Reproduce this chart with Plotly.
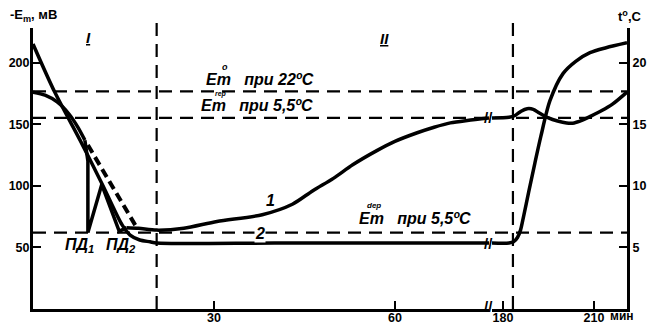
import plotly.graph_objects as go

# ---------------- data (time in min, potential -Em in mV, temperature in °C) ----------------
# curve 1 : membrane potential
c1_start_t = [0, 2, 4, 6, 7.5, 8.6]
c1_start_v = [176, 173.5, 168, 158, 147, 137]
c1_spike_t = [8.6, 9.1, 9.1, 11.4, 14.3, 15.5]
c1_spike_v = [137, 120, 62, 101, 63, 66]
c1_mid_t = [15.5, 17.5, 20.5, 25, 30.5, 38, 43, 46.4, 49.8, 53, 57, 60, 63.7, 66.5, 69.2, 72, 75.6]
c1_mid_v = [66, 65.5, 64, 65.5, 71, 76.5, 85, 96, 106, 117, 128.5, 136, 143, 147.5, 151, 153, 155]
c1_end_t = [176.4, 182, 184, 186, 188, 190, 192, 195, 198, 201, 203.5, 206, 209, 212.6, 216, 220.9]
c1_end_v = [155, 155.5, 157, 160.5, 162.5, 162, 159, 155, 152.5, 151, 151, 153, 156.5, 161, 166, 176]
# dashed trend through the action potentials
trend_t = [9.1, 17.2]
trend_v = [133, 66]
# curve 2 : temperature
t2_start_t = [0, 3.6, 7.8, 11.6, 14.8, 16.1, 17.7, 19.4, 20.5, 40, 60, 75.6]
t2_start_v = [21.5, 17.6, 13.7, 10.0, 6.8, 6.0, 5.6, 5.45, 5.35, 5.35, 5.35, 5.35]
t2_end_t = [176.4, 182, 183.5, 184.8, 185.8, 186.8, 188.5, 190.5, 192.5, 195.5, 199.8, 204, 208.7, 214, 220.9]
t2_end_v = [5.35, 5.35, 5.45, 5.8, 6.4, 7.5, 9.5, 11.8, 14.0, 16.9, 19.1, 20.1, 20.8, 21.2, 21.6]

# reference levels
ref_levels_mv = [176.5, 155, 62]
ref_time_1 = 20.5
ref_time_2 = 183.3

left_ticks = [50, 100, 150, 200]
right_ticks = [5, 10, 15, 20]
x1_ticks = [30, 60]
x2_ticks = [180, 210]

# ---------------- figure ----------------
# the page body has an 8px margin, so the figure is sized/offset to compensate
OFF = 8
W, H = 655 - OFF, 325 - OFF
PX0, PX1, PY0, PY1 = 33, 627, 28, 309          # plot area in page pixels
L, R, T, B = PX0 - OFF, 655 - PX1, PY0 - OFF, 325 - PY1
PW, PH = PX1 - PX0, PY1 - PY0


def px(x):
    return (x - PX0) / PW


def py(y):
    return (PY1 - y) / PH


FONT = "Liberation Sans"
LW = 3.5
fig = go.Figure()


def line(x, y, xa="x", ya="y", shape="spline", dash="solid", width=LW):
    fig.add_trace(go.Scatter(x=x, y=y, xaxis=xa, yaxis=ya, mode="lines",
                             line=dict(color="black", width=width, shape=shape,
                                       smoothing=0.8 if shape == "spline" else None, dash=dash),
                             showlegend=False, hoverinfo="skip"))


line(c1_start_t, c1_start_v)
line(c1_spike_t, c1_spike_v, shape="linear")
line(c1_mid_t, c1_mid_v)
line(c1_end_t, c1_end_v, xa="x2")
line(trend_t, trend_v, shape="linear", dash="9px,5px", width=4)
line(t2_start_t, t2_start_v, ya="y2")
line(t2_end_t, t2_end_v, xa="x2", ya="y2")

DASH = dict(color="black", width=2.2, dash="13px,8px")
shapes = []
for lv in ref_levels_mv:
    shapes.append(dict(type="line", xref="paper", yref="y", x0=0, x1=1, y0=lv, y1=lv, line=DASH))
shapes.append(dict(type="line", xref="x", yref="paper", x0=ref_time_1, x1=ref_time_1, y0=0, y1=1.036,
                   line=DASH))
shapes.append(dict(type="line", xref="x2", yref="paper", x0=ref_time_2, x1=ref_time_2, y0=0, y1=1.036,
                   line=DASH))

tickfont = dict(family=FONT, size=12.5, color="black", weight="bold")
axis_common = dict(showline=True, linecolor="black", linewidth=3, ticks="inside", ticklen=8,
                   tickwidth=2, tickcolor="black", showgrid=False, zeroline=False, tickfont=tickfont,
                   automargin=False)

fig.update_layout(
    width=W, height=H, margin=dict(l=L, r=R, t=T, b=B, autoexpand=False),
    paper_bgcolor="white", plot_bgcolor="white", shapes=shapes,
    xaxis=dict(domain=[0, px(489)], range=[0, 75.6], tickvals=x1_ticks, anchor="y",
               ticklabelstandoff=-5, **axis_common),
    xaxis2=dict(domain=[px(492), 1], range=[176.4, 220.9], tickvals=x2_ticks, anchor="y",
                ticklabelstandoff=-5, **axis_common),
    yaxis=dict(range=[0, 228], tickvals=left_ticks, anchor="x", ticklabelstandoff=-2, **axis_common),
    yaxis2=dict(range=[0, 22.8], tickvals=right_ticks, overlaying="y", side="right", anchor="x2",
                **axis_common),
)


def ann(text, x, y, size=15, xanchor="center", italic=True, bold=True, bg=None):
    fig.add_annotation(text=text, xref="paper", yref="paper", x=px(x), y=py(y), showarrow=False,
                       xanchor=xanchor, yanchor="middle",
                       font=dict(family=FONT, size=size, color="black",
                                 style="italic" if italic else "normal",
                                 weight="bold" if bold else "normal"),
                       bgcolor=bg, borderpad=0)


ann("-E<sub>m</sub>, мВ", 9, 16, size=13, xanchor="left", italic=False)
ann("t<sup>o</sup>,C", 617, 16, size=13, xanchor="left", italic=False)
ann("мин", 622, 316, size=12, italic=False)
ann("<u>I</u>", 88, 37, size=15)
ann("<u>II</u>", 384, 38, size=15)
ann("Em   при 22ºC", 205, 80, size=16, xanchor="left")
ann("o", 225, 67, size=9)
ann("Em   при 5,5ºC", 200, 105, size=16, xanchor="left")
ann("rep", 221, 94, size=7)
ann("Em   при 5,5ºC", 358, 218, size=16, xanchor="left")
ann("dep", 374, 205, size=8)
ann("1", 270, 200, size=16)
ann("2", 260, 233, size=16, bg="white")
ann("ПД<sub>1</sub>", 79, 246, size=16)
ann("ПД<sub>2</sub>", 121, 246, size=16)
# axis break marks
ann("//", 489, 306, size=15, italic=False)
ann("//", 489, 117, size=15, italic=False)
ann("//", 489, 243, size=15, italic=False)

fig.write_html("out.html")
